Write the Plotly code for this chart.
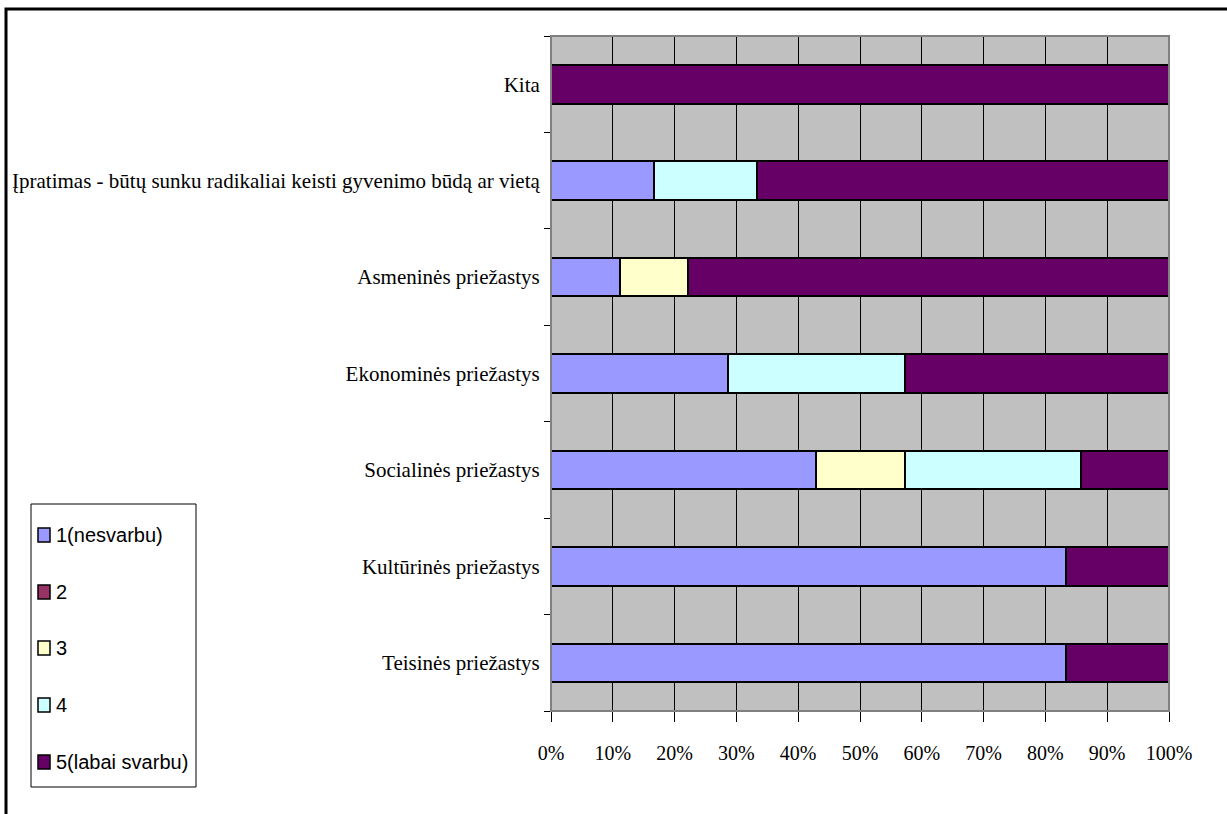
import plotly.graph_objects as go

# Survey categories (bottom to top as drawn)
categories = [
    "Teisinės priežastys",
    "Kultūrinės priežastys",
    "Socialinės priežastys",
    "Ekonominės priežastys",
    "Asmeninės priežastys",
    "Įpratimas - būtų sunku radikaliai keisti gyvenimo būdą ar vietą",
    "Kita",
]

# Share of answers per importance level (%), one list per level
level_1 = [83.3, 83.3, 42.9, 28.6, 11.1, 16.7, 0]
level_2 = [0, 0, 0, 0, 0, 0, 0]
level_3 = [0, 0, 14.3, 0, 11.1, 0, 0]
level_4 = [0, 0, 28.6, 28.6, 0, 16.7, 0]
level_5 = [16.7, 16.7, 14.3, 42.9, 77.8, 66.7, 100]

series_names = ["1(nesvarbu)", "2", "3", "4", "5(labai svarbu)"]
series_values = [level_1, level_2, level_3, level_4, level_5]
series_colors = ["#9999FF", "#993366", "#FFFFCC", "#CCFFFF", "#660066"]

tick_vals = [0, 10, 20, 30, 40, 50, 60, 70, 80, 90, 100]
tick_text = [f"{v}%" for v in tick_vals]

fig = go.Figure()
for name, vals, color in zip(series_names, series_values, series_colors):
    fig.add_trace(go.Bar(
        y=categories,
        x=[v if v > 0 else None for v in vals],
        name=name,
        orientation="h",
        marker=dict(color=color, line=dict(color="#000000", width=2)),
        hoverinfo="x+y+name",
        showlegend=False,
    ))

W, H = 1227, 814
L, R, T, B = 551, 58, 36, 103
pw, ph = W - L - R, H - T - B


def px_to_paper_x(px):
    return (px - L) / pw


def px_to_paper_y(py):
    return (H - B - py) / ph


shapes = [
    # gray frame around the plot area
    dict(type="rect", xref="paper", yref="paper", x0=0, x1=1, y0=0, y1=1,
         line=dict(color="#808080", width=2), layer="above"),
    # outer chart border
    dict(type="rect", xref="paper", yref="paper",
         x0=px_to_paper_x(6), x1=px_to_paper_x(1260),
         y0=px_to_paper_y(850), y1=px_to_paper_y(9),
         line=dict(color="#000000", width=3)),
    # legend box
    dict(type="rect", xref="paper", yref="paper",
         x0=px_to_paper_x(31), x1=px_to_paper_x(196),
         y0=px_to_paper_y(787), y1=px_to_paper_y(504),
         line=dict(color="#000000", width=1), fillcolor="#FFFFFF"),
]
annotations = []

# legend entries: swatch + label, one row per importance level
legend_rows_y = [535, 592, 648, 705, 762]
for name, color, ry in zip(series_names, series_colors, legend_rows_y):
    shapes.append(dict(
        type="rect", xref="paper", yref="paper",
        x0=px_to_paper_x(38), x1=px_to_paper_x(50),
        y0=px_to_paper_y(ry + 7), y1=px_to_paper_y(ry - 7),
        line=dict(color="#000000", width=1.5), fillcolor=color,
    ))
    annotations.append(dict(
        xref="paper", yref="paper",
        x=px_to_paper_x(54), y=px_to_paper_y(ry),
        xanchor="left", yanchor="middle",
        text=name, showarrow=False,
        font=dict(size=20, family="Liberation Sans, Arial, sans-serif", color="#000000"),
    ))

fig.update_layout(
    width=W, height=H,
    barmode="stack",
    bargap=0.6,
    paper_bgcolor="#FFFFFF",
    plot_bgcolor="#C0C0C0",
    margin=dict(l=L, r=R, t=T, b=B, pad=0),
    font=dict(family="Liberation Serif, Times New Roman, serif", color="#000000"),
    showlegend=False,
    xaxis=dict(
        range=[0, 100],
        tickvals=tick_vals,
        ticktext=tick_text,
        ticks="outside",
        ticklen=10,
        tickcolor="#000000",
        tickwidth=1,
        showgrid=True,
        gridcolor="#000000",
        gridwidth=1,
        showline=True,
        linecolor="#000000",
        linewidth=1,
        zeroline=False,
        tickfont=dict(size=20, family="Liberation Serif, Times New Roman, serif"),
        ticklabelstandoff=14,
        fixedrange=True,
    ),
    yaxis=dict(
        categoryorder="array",
        categoryarray=categories,
        ticks="outside",
        tickson="boundaries",
        ticklen=6,
        tickcolor="#000000",
        showgrid=False,
        showline=True,
        linecolor="#000000",
        linewidth=1,
        tickfont=dict(size=21, family="Liberation Serif, Times New Roman, serif"),
        ticklabelstandoff=6,
        fixedrange=True,
    ),
    shapes=shapes,
    annotations=annotations,
)

fig.write_html("out.html")
